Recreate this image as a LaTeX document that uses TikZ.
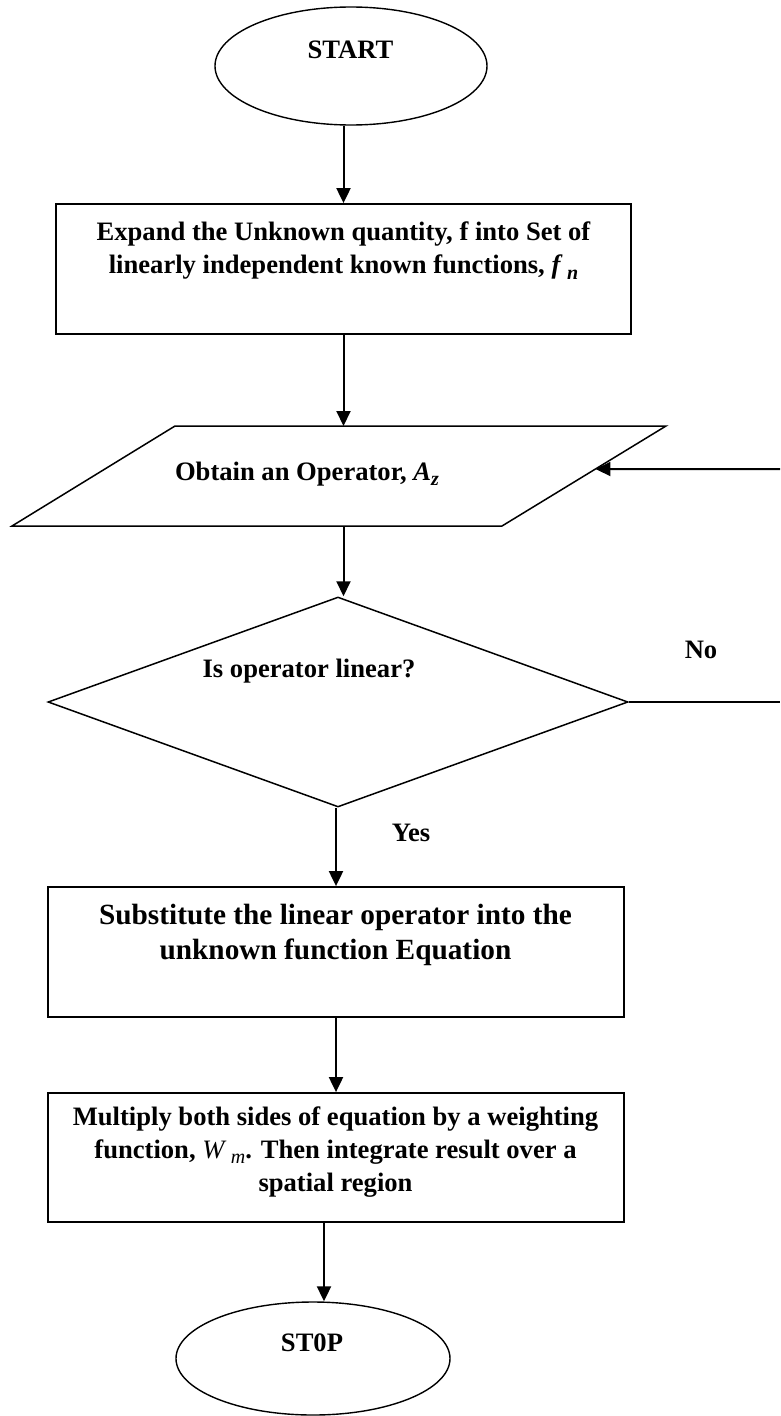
\documentclass[tikz,border=0pt]{standalone}
\usepackage{fontspec}
\setmainfont{Liberation Serif}
\usetikzlibrary{arrows.meta,shapes.geometric,calc}
\newcommand{\lowidx}[1]{\raisebox{-0.45ex}{\fontsize{20}{20}\selectfont #1}}
\tikzset{
  shp/.style={draw, line width=1.5pt, inner sep=0pt},
  boxnode/.style={shp, rectangle, line width=1.8pt},
  ovalnode/.style={shp, ellipse, line width=1.4pt},
  txt/.style={font=\fontsize{26.6}{33}\selectfont\bfseries, align=center, inner sep=0pt},
  bigtxt/.style={font=\fontsize{29.3}{35}\selectfont\bfseries, align=center, inner sep=0pt},
  arr/.style={line width=2pt, -{Triangle[length=15pt,width=14pt]}},
  plain/.style={line width=2pt}
}
\begin{document}
\begin{tikzpicture}[x=1pt,y=-1pt]
\useasboundingbox (0,0) rectangle (780,1416);

% shapes
\node[ovalnode, minimum width=272pt, minimum height=118pt] (start) at (351,66) {};
\node[txt] (starttxt) at (350.5,50) {START};

\node[boxnode, minimum width=575pt, minimum height=130pt] (box1) at (343.5,269) {};
\node[txt] (box1txt) at (343.5,251) {Expand the Unknown quantity, f into Set of\\linearly independent known functions, \textit{f}\,\lowidx{\textit{n}}};

\coordinate (pTL) at (175,426);
\coordinate (pTR) at (666,426);
\coordinate (pBR) at (502,526);
\coordinate (pBL) at (12,526);
\draw[line width=1.5pt] (pTL) -- (pTR) -- (pBR) -- (pBL) -- cycle;
\node[txt] (obtain) at (307,474) {Obtain an Operator, \textit{A}\lowidx{\textit{z}}};
\coordinate (pin) at ($(pTR)!0.43!(pBR)$);
\coordinate (loopin) at (780,469);

\node[shp, diamond, minimum width=580pt, minimum height=210pt] (dec) at (338,702) {};
\node[txt] (dectxt) at (309,671) {Is operator linear?};
\coordinate (noend) at (780,702);
\node[txt] (no) at (701,650) {No};
\node[txt] (yes) at (411,833) {Yes};

\node[boxnode, minimum width=576pt, minimum height=130pt] (box3) at (336,952) {};
\node[bigtxt] (box3txt) at (335.5,935) {Substitute the linear operator into the\\unknown function Equation};

\node[boxnode, minimum width=576pt, minimum height=129pt] (box4) at (336,1157.5) {};
\node[txt] (box4txt) at (335.5,1152) {Multiply both sides of equation by a weighting\\function, {\mdseries\textit{W}\,\lowidx{\textit{m}}}. Then integrate result over a\\spatial region};

\node[ovalnode, minimum width=274pt, minimum height=113pt] (stop) at (313,1358.5) {};
\node[txt] (stoptxt) at (312,1343) {ST0P};

% connectors
\draw[arr] (start.south -| box1.north) -- (box1.north);
\draw[arr] (box1.south) -- (box1.south |- pTL);
\draw[arr] (box1.south |- pBL) -- (box1.south |- dec.north);
\draw[plain] (dec.east) -- (noend);
\draw[arr] (loopin) -- (pin);
\draw[arr] (dec.south -| box3.north) -- (box3.north);
\draw[arr] (box3.south) -- (box4.north);
\draw[arr] ($(box4.south)+(-12,0)$) coordinate (b4out) -- (b4out |- stop.north);
\end{tikzpicture}
\end{document}
